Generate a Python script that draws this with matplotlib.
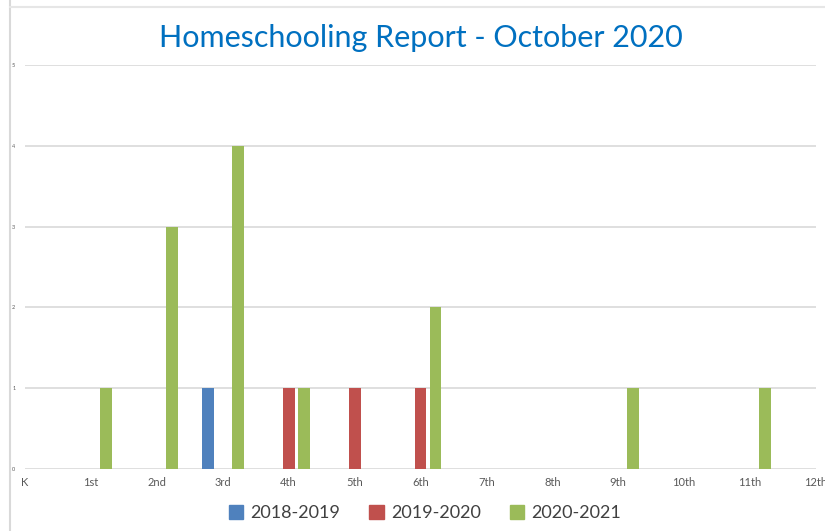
import numpy as np
import matplotlib
matplotlib.use("Agg")
import matplotlib.pyplot as plt
from matplotlib.lines import Line2D

plt.rcParams["font.family"] = ["Lato", "DejaVu Sans"]

grades = ["K", "1st", "2nd", "3rd", "4th", "5th", "6th",
          "7th", "8th", "9th", "10th", "11th", "12th"]
y2018 = [0, 0, 0, 1, 0, 0, 0, 0, 0, 0, 0, 0, 0]
y2019 = [0, 0, 0, 0, 1, 1, 1, 0, 0, 0, 0, 0, 0]
y2020 = [0, 1, 3, 4, 1, 0, 2, 0, 0, 1, 0, 1, 0]
series = [("2018-2019", y2018, "#4F81BD"),
          ("2019-2020", y2019, "#C0504D"),
          ("2020-2021", y2020, "#9BBB59")]
yticks = [0, 1, 2, 3, 4, 5]

GRID, MUTED = "#d9d9d9", "#595959"

fig = plt.figure(figsize=(8.25, 5.31), dpi=100, facecolor="white")
ax = fig.add_axes([0.0303, 0.1168, 0.9588, 0.7608])

x = np.arange(len(grades))
w, step = 0.18, 0.227
for i, (lab, vals, col) in enumerate(series):
    ax.bar(x + (i - 1) * step, vals, w, color=col, label=lab, zorder=3)

ax.set_xlim(0, 12)
ax.set_ylim(0, 5)
ax.set_yticks(yticks)
ax.set_yticklabels([str(t) for t in yticks], fontsize=4, color=MUTED)
ax.set_xticks(x)
ax.set_xticklabels(grades, fontsize=8, color=MUTED)
ax.tick_params(length=0, pad=6)
ax.tick_params(axis="y", pad=7)
ax.grid(axis="y", color=GRID, lw=1.2, zorder=0)
for s in ax.spines.values():
    s.set_visible(False)

ax.set_title("Homeschooling Report - October 2020", fontsize=22,
             color="#0070C0", y=1.0, pad=13)

handles = [plt.Rectangle((0, 0), 1, 1, color=c) for _, _, c in series]
fig.legend(handles, [s[0] for s in series], loc="center",
           bbox_to_anchor=(0.515, 0.034), ncol=3, frameon=False,
           fontsize=13, labelcolor="#404040", handlelength=0.8,
           handleheight=0.8, handletextpad=0.4, columnspacing=1.6)

# slide frame lines
fig.add_artist(Line2D([10 / 825, 10 / 825], [0, 1], color="#d9d9d9", lw=1.5))
fig.add_artist(Line2D([10 / 825, 1], [1 - 7 / 531, 1 - 7 / 531],
                      color="#e6e6e6", lw=1.5))

fig.savefig("out.png", dpi=100, facecolor="white")
